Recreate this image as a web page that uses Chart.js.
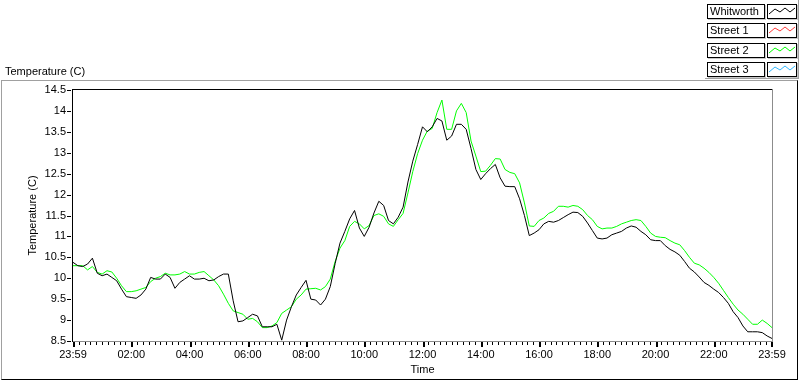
<!DOCTYPE html>
<html lang="en">
<head>
  <meta charset="UTF-8">
  <title>Temperature (C)</title>
  <script src="https://cdn.jsdelivr.net/npm/chart.js"></script>
  <style>
    body {
      margin: 0;
      background: #fff;
      font-family: "Liberation Sans", Arial, sans-serif;
      font-size: 11px;
      color: #000;
    }
    .wrap {
      position: relative;
      width: 800px;
      height: 380px;
      overflow: hidden;
    }
    #chart {
      position: absolute;
      left: 0;
      top: 0;
    }
    .frame {
      position: absolute;
      left: 1px;
      top: 80px;
      width: 795px;
      height: 298px;
      border-top: 1px solid #a0a0a0;
      border-left: 1px solid #a0a0a0;
      border-right: 1px solid #000;
      border-bottom: 1px solid #000;
      pointer-events: none;
    }
    .plot-name {
      position: absolute;
      left: 5px;
      top: 65px;
      line-height: 13px;
    }
    .legend-edge {
      position: absolute;
      left: 705px;
      top: 0;
      width: 93px;
      height: 78px;
      border-right: 1px solid #a0a0a0;
      border-bottom: 1px solid #a0a0a0;
    }
    .legend-label, .legend-sample {
      position: absolute;
      height: 13px;
      border: 1px solid #000;
      box-shadow: 1px 1px 0 #c8c8c8;
      background: #fff;
    }
    .legend-label {
      left: 707px;
      width: 54px;
      line-height: 13px;
      padding-left: 2px;
      box-sizing: content-box;
    }
    .legend-sample {
      left: 767px;
      width: 28px;
    }
  </style>
</head>
<body>
  <div class="wrap">
    <canvas id="chart" width="800" height="380"></canvas>
    <div class="frame"></div>
    <div class="plot-name">Temperature (C)</div>
    <div class="legend-edge"></div>
    <div id="legend"></div>
  </div>

  <script>
    // series names + colours (Street 1 and Street 3 have no data on this day)
    const seriesNames = ['Whitworth', 'Street 1', 'Street 2', 'Street 3'];
    const seriesColors = ['#000000', '#ff3a3a', '#00ff00', '#30b8ff'];

    // x tick labels, one every 2 hours starting at 23:59
    const timeLabels = ['23:59', '02:00', '04:00', '06:00', '08:00', '10:00', '12:00',
                        '14:00', '16:00', '18:00', '20:00', '22:00', '23:59'];

    // readings every 10 minutes from 23:59
    const whitworth = [
      10.38, 10.30, 10.28, 10.34, 10.48, 10.12, 10.06, 10.10, 10.02, 9.94,
      9.74, 9.56, 9.54, 9.52, 9.60, 9.74, 10.02, 9.98, 9.98, 10.10,
      10.02, 9.76, 9.90, 9.98, 10.06, 9.98, 9.98, 10.00, 9.94, 9.96,
      10.04, 10.10, 10.10, 9.46, 8.96, 8.98, 9.06, 9.14, 9.10, 8.84,
      8.84, 8.84, 8.90, 8.52, 9.00, 9.32, 9.60, 9.78, 9.95, 9.50,
      9.48, 9.36, 9.50, 9.80, 10.35, 10.84, 11.12, 11.42, 11.62, 11.20,
      11.00, 11.22, 11.56, 11.84, 11.74, 11.38, 11.30, 11.46, 11.70, 12.30,
      12.80, 13.20, 13.62, 13.50, 13.62, 13.82, 13.76, 13.30, 13.40, 13.68,
      13.68, 13.56, 13.10, 12.60, 12.36, 12.50, 12.62, 12.72, 12.40, 12.20,
      12.19, 12.19, 11.90, 11.50, 11.02, 11.08, 11.16, 11.30, 11.36, 11.34,
      11.38, 11.45, 11.52, 11.58, 11.57, 11.48, 11.32, 11.14, 10.96, 10.94,
      10.96, 11.04, 11.08, 11.12, 11.20, 11.25, 11.22, 11.12, 11.04, 10.92,
      10.90, 10.90, 10.78, 10.69, 10.63, 10.55, 10.40, 10.24, 10.15, 10.03,
      9.90, 9.83, 9.74, 9.66, 9.54, 9.40, 9.20, 9.06, 8.86, 8.72,
      8.72, 8.72, 8.70, 8.62, 8.56
    ];
    const street2 = [
      10.30, 10.30, 10.30, 10.20, 10.28, 10.14, 10.10, 10.18, 10.15, 10.00,
      9.82, 9.68, 9.68, 9.70, 9.74, 9.78, 9.92, 10.00, 10.04, 10.12,
      10.08, 10.08, 10.10, 10.16, 10.10, 10.10, 10.14, 10.16, 10.06, 9.96,
      9.82, 9.62, 9.40, 9.22, 9.18, 9.14, 9.02, 9.04, 8.96, 8.82,
      8.82, 8.86, 8.94, 9.16, 9.24, 9.32, 9.50, 9.60, 9.74, 9.75,
      9.76, 9.72, 9.80, 9.98, 10.40, 10.72, 10.90, 11.24, 11.36, 11.30,
      11.18, 11.26, 11.50, 11.54, 11.48, 11.30, 11.24, 11.40, 11.55, 12.04,
      12.55, 12.98, 13.30, 13.52, 13.58, 13.96, 14.26, 13.56, 13.56, 14.00,
      14.18, 13.96, 13.28, 12.92, 12.55, 12.56, 12.70, 12.86, 12.85, 12.60,
      12.53, 12.50, 12.28, 11.80, 11.25, 11.24, 11.38, 11.44, 11.55, 11.60,
      11.72, 11.72, 11.70, 11.74, 11.72, 11.64, 11.50, 11.40, 11.24, 11.18,
      11.20, 11.20, 11.24, 11.30, 11.34, 11.38, 11.40, 11.38, 11.24, 11.08,
      11.00, 10.98, 10.97, 10.90, 10.84, 10.80, 10.66, 10.50, 10.36, 10.32,
      10.24, 10.14, 10.02, 9.88, 9.71, 9.54, 9.38, 9.24, 9.14, 9.02,
      8.90, 8.90, 9.00, 8.92, 8.82
    ];
    const sampleMinutes = 10;
    const minorTickMinutes = 12;

    const toPoints = vals => vals.map((v, i) => ({x: i * sampleMinutes, y: v}));

    // legend boxes, drawn as html
    const legend = document.getElementById('legend');
    seriesNames.forEach((name, i) => {
      const top = Math.round(4 + i * 19.3);
      const label = document.createElement('div');
      label.className = 'legend-label';
      label.style.top = top + 'px';
      label.textContent = name;
      legend.appendChild(label);

      const sample = document.createElement('div');
      sample.className = 'legend-sample';
      sample.style.top = top + 'px';
      sample.innerHTML = `<svg width="28" height="13">
        <polyline points="1,9 7,4 12,7 17,3 22,7 27,3" fill="none"
          stroke="${seriesColors[i]}" stroke-width="1" /></svg>`;
      legend.appendChild(sample);
    });

    // plot frame and tick marks, LabVIEW style
    const framePlugin = {
      id: 'frame',
      afterDraw(chart) {
        const {ctx, chartArea: a, scales: {x, y}} = chart;
        const L = Math.round(a.left), R = Math.round(a.right);
        const T = Math.round(a.top), B = Math.round(a.bottom);
        ctx.save();
        ctx.fillStyle = '#8c8c8c';
        ctx.fillRect(L, B, R - L + 1, 1);
        ctx.fillRect(R, T - 1, 1, B - T + 1);
        ctx.fillStyle = '#000';
        ctx.fillRect(L - 1, T - 1, R - L + 1, 1);
        ctx.fillRect(L - 1, T - 1, 1, B - T + 2);

        y.ticks.forEach(t => {
          const py = Math.round(y.getPixelForValue(t.value));
          ctx.fillRect(L - 6, py, 4, 1);
        });
        for (let m = 0; m <= x.max; m += minorTickMinutes) {
          const px = Math.round(x.getPixelForValue(m));
          if (m % 120 === 0) ctx.fillRect(Math.min(px, R - 1), B + 1, 2, 5);
          else ctx.fillRect(px, B + 1, 1, 3);
        }
        ctx.restore();
      }
    };

    Chart.defaults.font.family = '"Liberation Sans", Arial, sans-serif';
    Chart.defaults.font.size = 11;
    Chart.defaults.color = '#000';

    new Chart(document.getElementById('chart'), {
      type: 'line',
      data: {
        datasets: [{
          label: seriesNames[0],
          data: toPoints(whitworth),
          borderColor: seriesColors[0],
          borderWidth: 1,
          pointRadius: 0,
          tension: 0
        }, {
          label: seriesNames[2],
          data: toPoints(street2),
          borderColor: seriesColors[2],
          borderWidth: 1,
          pointRadius: 0,
          tension: 0
        }]
      },
      options: {
        responsive: false,
        animation: false,
        layout: {
          padding: {top: 90, right: 28, bottom: 0, left: 0}
        },
        plugins: {
          legend: {display: false},
          tooltip: {enabled: false}
        },
        scales: {
          x: {
            type: 'linear',
            min: 0,
            max: 1440,
            grid: {display: false, drawTicks: false},
            border: {display: false},
            ticks: {
              stepSize: 120,
              autoSkip: false,
              maxRotation: 0,
              minRotation: 0,
              padding: 7,
              callback: (value, index) => timeLabels[index]
            },
            title: {
              display: true,
              text: 'Time',
              padding: {top: 0, bottom: 3}
            },
            afterFit: scale => { scale.height = 39; }
          },
          y: {
            min: 8.5,
            max: 14.5,
            grid: {display: false, drawTicks: false},
            border: {display: false},
            ticks: {
              stepSize: 0.5,
              padding: 7,
              callback: value => String(value)
            },
            title: {
              display: true,
              text: 'Temperature (C)',
              padding: {top: 26, bottom: 0}
            },
            afterFit: scale => { scale.width = 73; }
          }
        }
      },
      plugins: [framePlugin]
    });
  </script>
</body>
</html>
